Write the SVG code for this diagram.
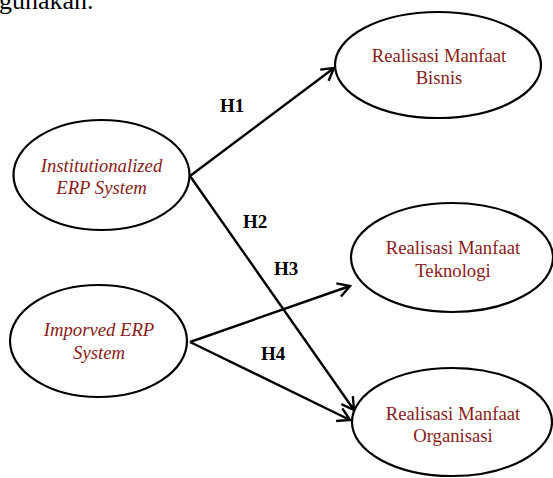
<svg xmlns="http://www.w3.org/2000/svg" width="553" height="478" viewBox="0 0 553 478">
<style>
.node ellipse{fill:#fff;stroke:#000;stroke-width:2.2}
.lbl{font-family:"Liberation Serif",serif;font-size:18.7px;fill:#8b1a1a;text-anchor:middle}
.it{font-style:italic}
.h{font-family:"Liberation Serif",serif;font-size:19px;font-weight:bold;fill:#000}
.edge{stroke:#000;stroke-width:2.4;fill:none;marker-end:url(#arr)}
</style>
<defs>
<marker id="arr" markerUnits="userSpaceOnUse" markerWidth="30" markerHeight="30" refX="15" refY="15" orient="auto" viewBox="0 0 30 30">
<path d="M3,8 L15,15 L3,22" fill="none" stroke="#000" stroke-width="2.4"/>
</marker>
</defs>
<rect width="553" height="478" fill="#fff"/>
<text x="-1" y="9" font-family="Liberation Serif,serif" font-size="26" fill="#000">gunakan.</text>
<g id="edges">
<line class="edge" x1="190" y1="176" x2="334" y2="68"/>
<line class="edge" x1="190" y1="176" x2="354" y2="410"/>
<line class="edge" x1="190" y1="342" x2="350" y2="286"/>
<line class="edge" x1="190" y1="342" x2="350" y2="420"/>
</g>
<g id="labels">
<text class="h" x="220" y="112">H1</text>
<text class="h" x="243" y="228">H2</text>
<text class="h" x="274" y="275">H3</text>
<text class="h" x="261" y="360">H4</text>
</g>
<g id="n1" class="node">
<ellipse cx="101.5" cy="175" rx="88" ry="55"/>
<text class="lbl it" x="101.5" y="172">Institutionalized</text>
<text class="lbl it" x="101.5" y="194">ERP System</text>
</g>
<g id="n2" class="node">
<ellipse cx="98.5" cy="341" rx="88.5" ry="56"/>
<text class="lbl it" x="99" y="336">Imporved ERP</text>
<text class="lbl it" x="99" y="359">System</text>
</g>
<g id="n3" class="node">
<ellipse cx="438" cy="65" rx="103" ry="53"/>
<text class="lbl" x="439" y="62">Realisasi Manfaat</text>
<text class="lbl" x="439" y="84">Bisnis</text>
</g>
<g id="n4" class="node">
<ellipse cx="452" cy="257.5" rx="101" ry="54.5"/>
<text class="lbl" x="453" y="254">Realisasi Manfaat</text>
<text class="lbl" x="453" y="277">Teknologi</text>
</g>
<g id="n5" class="node">
<ellipse cx="452" cy="422" rx="100" ry="54"/>
<text class="lbl" x="453" y="420">Realisasi Manfaat</text>
<text class="lbl" x="453" y="442">Organisasi</text>
</g>
</svg>
